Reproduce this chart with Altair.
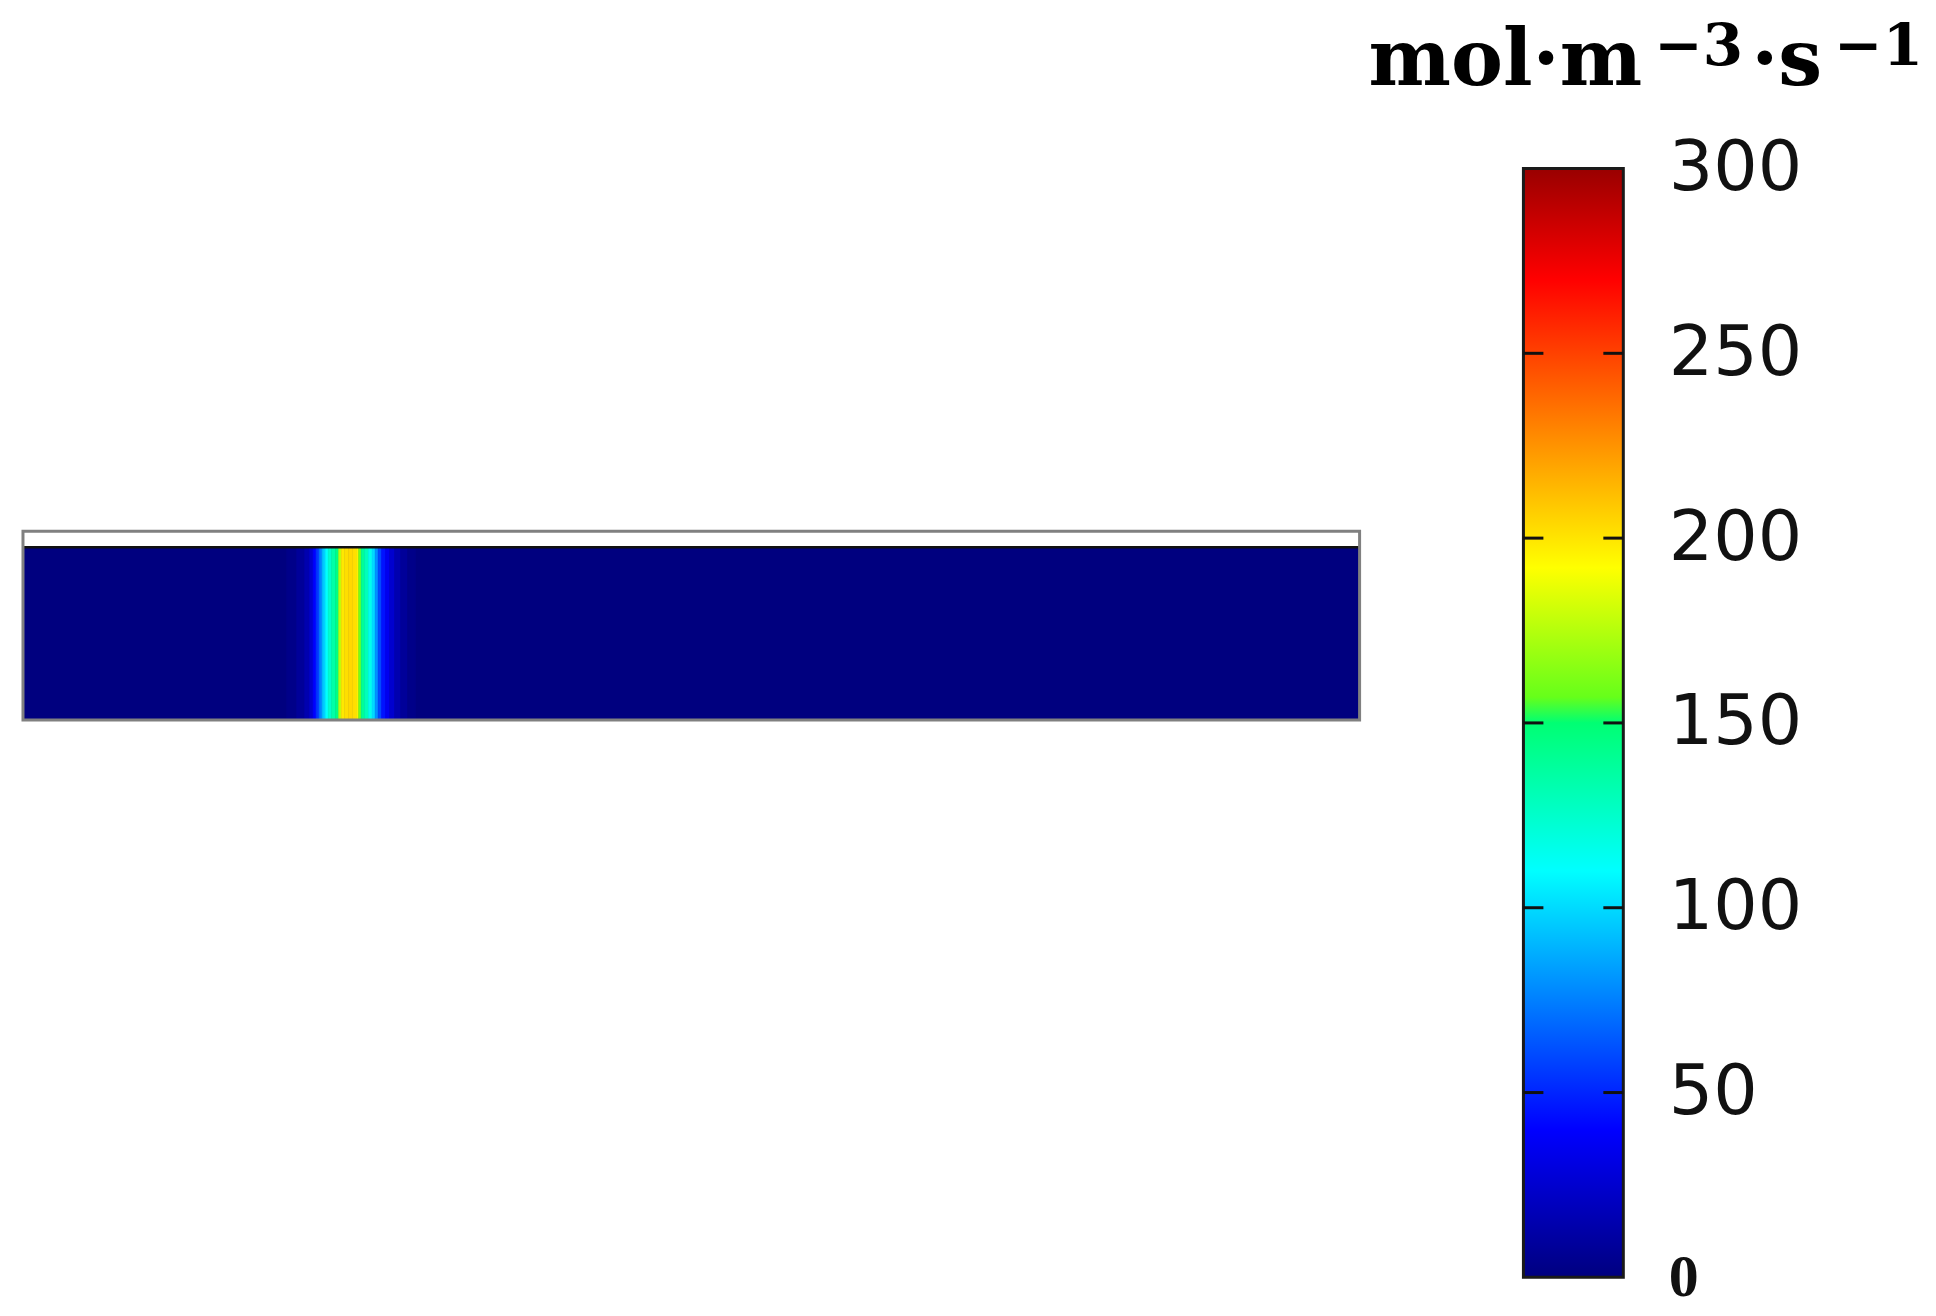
import altair as alt
import pandas as pd

# ---------------- data ----------------
# computational domain (arbitrary length units), reaction layer + thin top strip
DOMAIN_LENGTH = 100.0
LAYER_THICKNESS = 1.0
STRIP_THICKNESS = 0.0925
BACKGROUND_RATE = 0.0

# reaction-rate profile across the narrow band (x position, rate in mol·m^-3·s^-1)
BAND_X = [20.1, 20.85, 21.3, 21.6, 21.82, 22.05, 22.27, 22.5, 22.72, 22.94,
          23.24, 23.54, 23.69, 23.92, 24.22, 24.51, 24.81, 25.04, 25.19, 25.41,
          25.71, 26.0, 26.23, 26.46, 26.68, 26.98, 27.28, 27.58, 28.03, 28.48, 29.07]
BAND_RATE = [3, 8, 15, 25, 40, 55, 75, 95, 110, 125,
             135, 145, 175, 199, 202, 204, 202, 197, 160, 140,
             130, 115, 100, 80, 60, 45, 35, 25, 15, 8, 3]

# colour bar
CB_VALUES = [0, 40, 110, 150, 157, 192, 270, 300]
CB_COLORS = ["#00007f", "#0000ff", "#00ffff", "#00ff73", "#66ff1a", "#ffff00", "#ff0000", "#990000"]
TICK_VALUES = [0, 50, 100, 150, 200, 250, 300]
INNER_TICKS = [50, 100, 150, 200, 250]
UNIT_PARTS = ["mol·m", "−3", "·s", "−1"]

# ---------------- tables ----------------
edges = [BAND_X[0] - (BAND_X[1] - BAND_X[0]) / 2]
for i in range(len(BAND_X) - 1):
    edges.append((BAND_X[i] + BAND_X[i + 1]) / 2)
edges.append(BAND_X[-1] + (BAND_X[-1] - BAND_X[-2]) / 2)
band_df = pd.DataFrame({"x0": edges[:-1], "x1": edges[1:], "y0": 0.0,
                        "y1": LAYER_THICKNESS, "rate": BAND_RATE})
base_df = pd.DataFrame({"x0": [0.0], "x1": [DOMAIN_LENGTH], "y0": [0.0],
                        "y1": [LAYER_THICKNESS], "rate": [BACKGROUND_RATE]})
frame_df = pd.DataFrame({"x0": [0.0], "x1": [DOMAIN_LENGTH], "y0": [0.0],
                         "y1": [LAYER_THICKNESS + STRIP_THICKNESS]})
line_df = pd.DataFrame({"x0": [0.0], "x1": [DOMAIN_LENGTH], "y": [LAYER_THICKNESS]})

cmax = max(CB_VALUES)
cscale = alt.Scale(domain=CB_VALUES, range=CB_COLORS, interpolate="rgb")
xs = alt.Scale(domain=[0, DOMAIN_LENGTH], nice=False, zero=False)
ys = alt.Scale(domain=[-3.225, 4.1156], nice=False, zero=False)

frame = alt.Chart(frame_df).mark_rect(fill="white", strokeWidth=0).encode(
    x=alt.X("x0:Q", scale=xs, axis=None), x2="x1",
    y=alt.Y("y0:Q", scale=ys, axis=None), y2="y1")
base = alt.Chart(base_df).mark_rect(strokeWidth=0).encode(
    x=alt.X("x0:Q", scale=xs, axis=None), x2="x1",
    y=alt.Y("y0:Q", scale=ys, axis=None), y2="y1",
    color=alt.Color("rate:Q", scale=cscale, legend=None))
band = alt.Chart(band_df).mark_rect(strokeWidth=0.6).encode(
    x=alt.X("x0:Q", scale=xs, axis=None), x2="x1",
    y=alt.Y("y0:Q", scale=ys, axis=None), y2="y1",
    color=alt.Color("rate:Q", scale=cscale, legend=None),
    stroke=alt.Stroke("rate:Q", scale=cscale, legend=None))
layer_edge = alt.Chart(base_df).mark_rect(fillOpacity=0, stroke="#111111", strokeWidth=1.5).encode(
    x=alt.X("x0:Q", scale=xs, axis=None), x2="x1",
    y=alt.Y("y0:Q", scale=ys, axis=None), y2="y1")
line = alt.Chart(line_df).mark_rule(color="#111111", strokeWidth=2.5).encode(
    x=alt.X("x0:Q", scale=xs, axis=None), x2="x1",
    y=alt.Y("y:Q", scale=ys, axis=None))
outline = alt.Chart(frame_df).mark_rect(fillOpacity=0, stroke="#808080", strokeWidth=3).encode(
    x=alt.X("x0:Q", scale=xs, axis=None), x2="x1",
    y=alt.Y("y0:Q", scale=ys, axis=None), y2="y1")

domain_panel = alt.layer(frame, base, band, layer_edge, line, outline).properties(
    width=1338, height=1270)

# ---------------- colour bar panel ----------------
cys = alt.Scale(domain=[0, 343.24], nice=False, zero=False)
cxs = alt.Scale(domain=[0, 1], nice=False, zero=False)
yaxis = alt.Axis(
    orient="right", values=TICK_VALUES, title=None, domain=False, ticks=False,
    grid=False, labelPadding=45, labelColor="#111111", labelBaseline="middle",
    labelFont={"condition": {"test": "datum.value === 0", "value": "Liberation Serif"},
               "value": "DejaVu Sans"},
    labelFontSize={"condition": {"test": "datum.value === 0", "value": 60}, "value": 70},
    labelFontWeight={"condition": {"test": "datum.value === 0", "value": "bold"},
                     "value": "normal"},
)

grad = alt.Gradient(
    gradient="linear",
    stops=[alt.GradientStop(offset=v / cmax, color=c) for v, c in zip(CB_VALUES, CB_COLORS)],
    x1=0, x2=0, y1=1, y2=0)
bar_df = pd.DataFrame({"x0": [0.0], "x1": [1.0], "lo": [0.0], "hi": [float(cmax)]})
bar = alt.Chart(bar_df).mark_rect(color=grad, stroke="#1a1a1a", strokeWidth=3).encode(
    x=alt.X("x0:Q", scale=cxs, axis=None), x2="x1",
    y=alt.Y("lo:Q", scale=cys, axis=yaxis), y2="hi")

tick_rows = []
for v in INNER_TICKS:
    tick_rows.append({"v": v, "a": 0.0, "b": 0.2})
    tick_rows.append({"v": v, "a": 0.8, "b": 1.0})
ticks = alt.Chart(pd.DataFrame(tick_rows)).mark_rule(color="#111111", strokeWidth=3).encode(
    x=alt.X("a:Q", scale=cxs, axis=None), x2="b",
    y=alt.Y("v:Q", scale=cys, axis=yaxis))

def unit_text(txt, px, py, size):
    return alt.Chart(pd.DataFrame({"t": [txt]})).mark_text(
        font="DejaVu Serif", fontWeight="bold", fontSize=size,
        align="left", baseline="alphabetic", color="#000000").encode(
        text="t:N", x=alt.value(px), y=alt.value(py))

title_parts = [
    unit_text(UNIT_PARTS[0], -155, 76, 78),
    unit_text(UNIT_PARTS[1], 131, 56, 58),
    unit_text(UNIT_PARTS[2], 228, 76, 78),
    unit_text(UNIT_PARTS[3], 311, 56, 58),
]

colorbar_panel = alt.layer(bar, ticks, *title_parts).properties(width=100, height=1270)

chart = alt.hconcat(domain_panel, colorbar_panel, spacing=164, bounds="flush").properties(
    padding={"left": 13, "top": 0, "right": 5, "bottom": 5}
).configure_view(strokeWidth=0)

chart.save("out.html", embed_options={"renderer": "svg", "actions": False})
